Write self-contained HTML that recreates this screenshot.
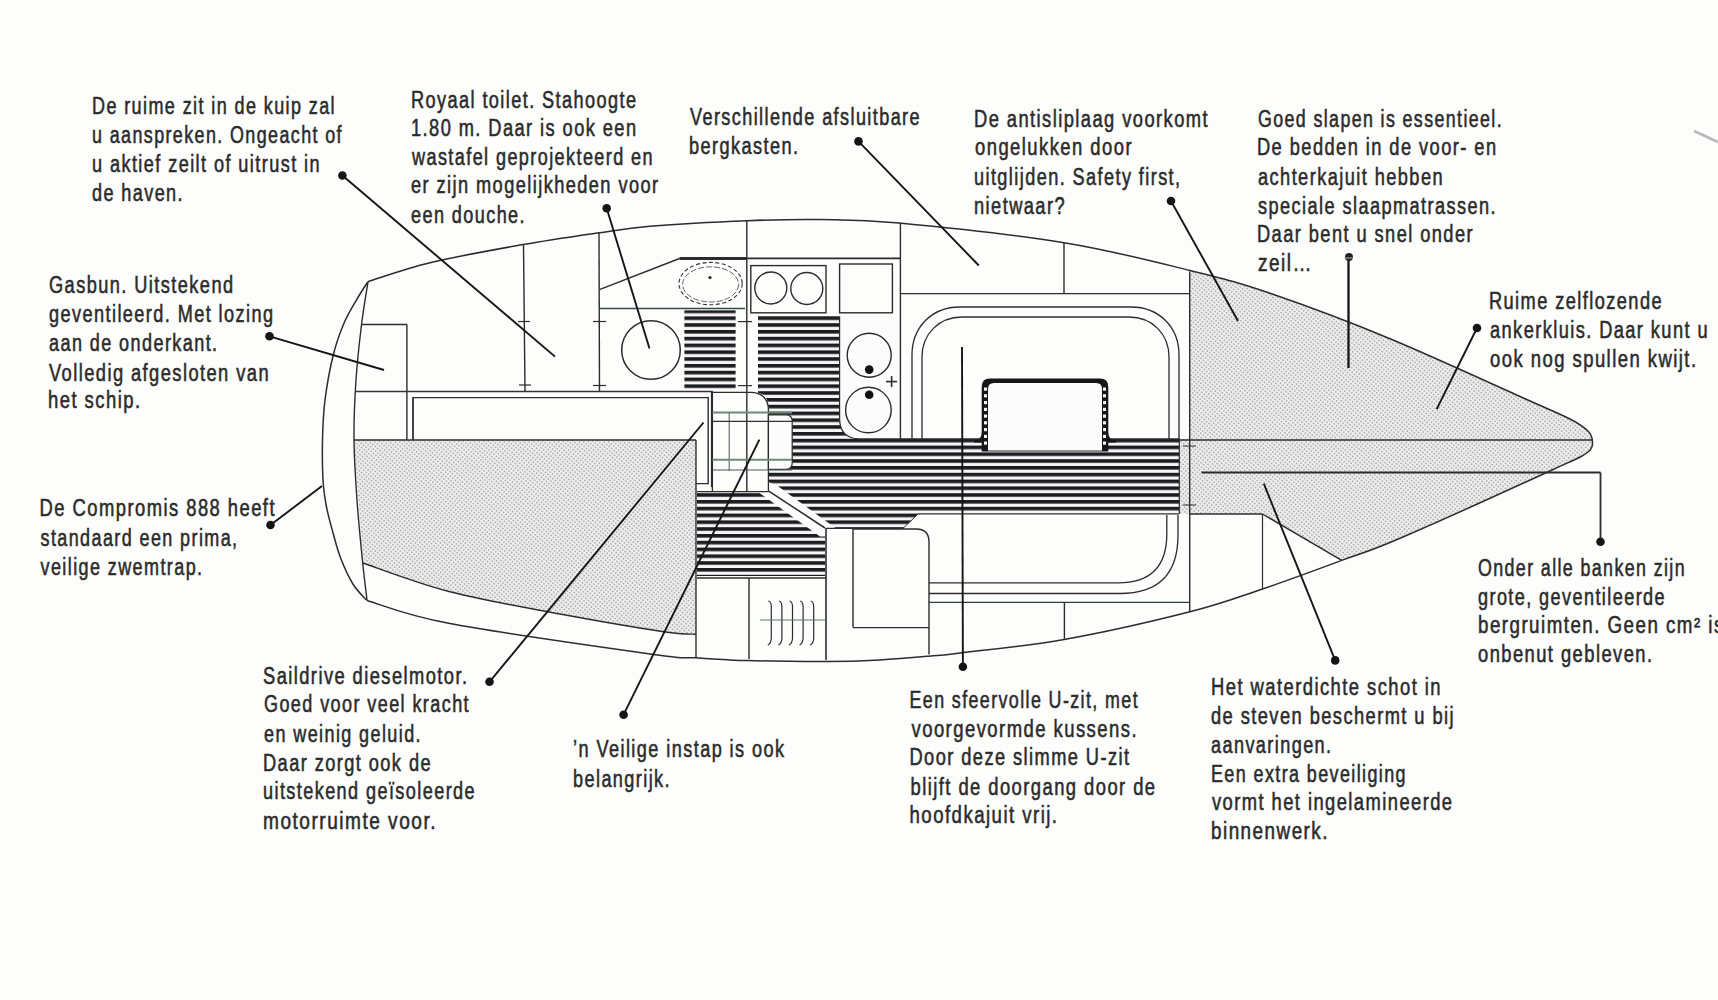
<!DOCTYPE html>
<html><head><meta charset="utf-8"><title>Compromis 888</title>
<style>
html,body{margin:0;padding:0;background:#fdfdfc;}
body{width:1718px;height:1000px;overflow:hidden;position:relative;}
svg{position:absolute;left:0;top:0;}
text{font-family:"Liberation Sans",sans-serif;font-size:23px;fill:#2b2b2b;letter-spacing:1.8px;}
</style></head><body>
<svg width="1718" height="1000" viewBox="0 0 1718 1000">
<rect width="1718" height="1000" fill="#fdfdfc"/>
<defs>
<pattern id="dots" width="3.2" height="3.2" patternUnits="userSpaceOnUse" patternTransform="rotate(40)">
<rect width="3.2" height="3.2" fill="#eeeeef"/><circle cx="1.6" cy="1.6" r="0.9" fill="#a9a9ad"/></pattern>
<pattern id="hatch" width="10" height="6.8" y="3.6" patternUnits="userSpaceOnUse">
<rect width="10" height="6.8" fill="#f3f6f3"/><rect y="0" width="10" height="3.6" fill="#1c1c22"/></pattern>
</defs>
<path d="M354 440 L696 440 L696 634.2  L696 634.2 C690.6 633.8 686.2 635.1 663.5 631.7 C640.8 628.3 595.6 620.6 560.0 614.0 C524.4 607.4 482.9 600.3 450.0 591.8 C417.1 583.3 377.2 567.8 362.7 563.0 Z" fill="url(#dots)"/>
<path d="M1189.7 270.6 C1203.3 274.5 1238.1 282.5 1271.5 293.8 C1304.9 305.1 1347.8 321.2 1390.0 338.7 C1432.2 356.2 1495.0 385.3 1525.0 398.7 C1555.0 412.1 1559.5 413.6 1570.0 419.0 C1580.5 424.4 1584.2 427.5 1588.0 431.0 C1591.8 434.5 1591.8 438.5 1592.5 440.0  C1591.8 442.0 1594.8 447.0 1588.0 452.0 C1581.2 457.0 1583.3 455.6 1552.0 470.0 C1520.7 484.4 1435.0 523.2 1400.0 538.3 C1365.0 553.4 1351.4 556.7 1341.7 560.4 L1262.5 514 L1189.7 514 Z" fill="url(#dots)"/>
<rect x="1179.3" y="438.8" width="10.4" height="75.2" fill="url(#dots)"/>
<rect x="684.4" y="310.4" width="51.2" height="78.4" fill="url(#hatch)"/>
<path d="M758 316.8 L839.6 316.8 L839.6 418 Q839.6 438.8 859.6 438.8 L1179.3 438.8 L1179.3 514 L918 514 L903 528.4 L836 528.4 L777 485.5 L768.4 482 L768.4 408 Q768 394 758 393 Z" fill="url(#hatch)"/>
<path d="M697 492 L758 492 L820 536.4 L825 536.4 L825 576 L697 576 Z" fill="url(#hatch)"/>
<path d="M768.4 414.8 L786 414.8 Q792.2 414.8 792.2 421 L792.2 463 Q792.2 469.3 786 469.3 L768.4 469.3 Z" fill="#fbfcfb" stroke="#2c2c2c" stroke-width="1.2"/>
<path d="M974 440.5 Q981.7 440 981.7 432 L981.7 387 Q981.7 378.6 990 378.6 L1100 378.6 Q1108.3 378.6 1108.3 387 L1108.3 432 Q1108.3 440 1116 440.5 L1116 442.5 L974 442.5 Z" fill="#161616"/>
<rect x="981.7" y="442" width="6.3" height="9.5" fill="#161616"/><rect x="1102" y="442" width="6.3" height="9.5" fill="#161616"/>
<path d="M988 451.5 L988 389 Q988 383 994 383 L1096 383 Q1102 383 1102 389 L1102 451.5 Z" fill="#fbfcfb"/>
<line x1="988" y1="451" x2="1102" y2="451" stroke="#222" stroke-width="1.2"/>
<rect x="984" y="387.5" width="3" height="3.2" fill="#f4f6f4"/>
<rect x="1103" y="387.5" width="3" height="3.2" fill="#f4f6f4"/>
<rect x="984" y="394.2" width="3" height="3.2" fill="#f4f6f4"/>
<rect x="1103" y="394.2" width="3" height="3.2" fill="#f4f6f4"/>
<rect x="984" y="401.0" width="3" height="3.2" fill="#f4f6f4"/>
<rect x="1103" y="401.0" width="3" height="3.2" fill="#f4f6f4"/>
<rect x="984" y="407.8" width="3" height="3.2" fill="#f4f6f4"/>
<rect x="1103" y="407.8" width="3" height="3.2" fill="#f4f6f4"/>
<rect x="984" y="414.5" width="3" height="3.2" fill="#f4f6f4"/>
<rect x="1103" y="414.5" width="3" height="3.2" fill="#f4f6f4"/>
<rect x="984" y="421.2" width="3" height="3.2" fill="#f4f6f4"/>
<rect x="1103" y="421.2" width="3" height="3.2" fill="#f4f6f4"/>
<rect x="984" y="428.0" width="3" height="3.2" fill="#f4f6f4"/>
<rect x="1103" y="428.0" width="3" height="3.2" fill="#f4f6f4"/>
<rect x="984" y="434.8" width="3" height="3.2" fill="#f4f6f4"/>
<rect x="1103" y="434.8" width="3" height="3.2" fill="#f4f6f4"/>
<rect x="984" y="441.5" width="3" height="3.2" fill="#f4f6f4"/>
<rect x="1103" y="441.5" width="3" height="3.2" fill="#f4f6f4"/>
<path d="M839.6 316.8 L900.4 316.8 L900.4 438.8 L859.6 438.8 Q839.6 438.8 839.6 418 Z" fill="#fbfcfb"/>
<line x1="1694" y1="131" x2="1718" y2="142" stroke="#b8b8b8" stroke-width="2.5"/>
<path d="M368.0 281.6 C378.3 278.5 404.4 268.8 430.0 262.7 C455.6 256.6 493.6 249.8 521.6 244.8 C549.6 239.9 576.4 236.1 597.8 233.0 C619.2 229.9 625.0 228.4 650.0 226.3 C675.0 224.2 719.3 221.8 747.6 220.7 C775.9 219.6 794.8 219.1 820.0 219.5 C845.2 219.9 858.3 219.1 899.0 223.0 C939.7 226.9 1015.5 234.8 1064.0 242.7 C1112.5 250.6 1155.4 262.0 1190.0 270.5 C1224.6 279.0 1238.2 282.4 1271.5 293.8 C1304.8 305.2 1347.8 321.2 1390.0 338.7 C1432.2 356.2 1495.0 385.3 1525.0 398.7 C1555.0 412.1 1559.5 413.6 1570.0 419.0 C1580.5 424.4 1584.2 427.5 1588.0 431.0 C1591.8 434.5 1591.8 438.5 1592.5 440.0" fill="none" stroke="#2c2c2c" stroke-width="1.5" />
<path d="M1592.5 440.0 C1591.8 442.0 1594.8 447.0 1588.0 452.0 C1581.2 457.0 1583.3 455.6 1552.0 470.0 C1520.7 484.4 1435.0 523.2 1400.0 538.3 C1365.0 553.4 1364.6 551.9 1341.7 560.4 C1318.8 568.9 1288.0 580.4 1262.5 589.0 C1237.0 597.6 1222.1 603.6 1189.0 612.0 C1155.9 620.4 1102.2 632.7 1064.0 639.5 C1025.8 646.3 982.5 650.2 960.0 653.0 C937.5 655.8 942.3 655.0 929.0 656.2 C915.7 657.4 897.2 659.1 880.0 660.0 C862.8 660.9 847.8 661.5 826.0 661.6 C804.2 661.7 765.0 660.9 749.0 660.6 C733.0 660.3 739.0 660.4 730.0 659.9 C721.0 659.4 708.0 658.7 695.3 657.8 C682.6 656.9 694.6 660.2 653.7 654.5 C612.8 648.8 497.8 632.6 450.0 623.6 C402.2 614.6 380.8 604.4 367.0 600.5" fill="none" stroke="#2c2c2c" stroke-width="1.5" />
<path d="M366.6 600.3 C364.3 597.6 357.2 591.0 352.9 584.0 C348.6 577.0 344.0 566.7 340.6 558.0 C337.2 549.3 335.2 540.7 332.8 532.0 C330.4 523.3 327.9 514.7 326.3 506.0 C324.7 497.3 323.6 491.0 323.0 480.0 C322.4 469.0 322.2 453.3 322.5 440.0 C322.8 426.7 323.2 414.2 325.0 400.0 C326.8 385.8 330.1 367.5 333.4 354.5 C336.6 341.5 340.3 331.8 344.5 322.0 C348.7 312.2 354.9 302.7 358.8 296.0 C362.7 289.3 366.5 284.0 368.0 281.6" fill="none" stroke="#2c2c2c" stroke-width="1.5" />
<path d="M368.0 282.0 C366.9 289.0 363.6 307.7 361.6 324.0 C359.6 340.3 357.3 360.7 356.0 380.0 C354.7 399.3 353.8 420.0 354.0 440.0 C354.2 460.0 355.6 479.5 357.0 500.0 C358.4 520.5 361.0 546.3 362.7 563.0 C364.4 579.7 366.3 593.8 367.0 600.0" fill="none" stroke="#2c2c2c" stroke-width="1.4" />
<path d="M362.7 563.0 C377.2 567.8 417.1 583.3 450.0 591.8 C482.9 600.3 524.4 607.4 560.0 614.0 C595.6 620.6 640.8 628.3 663.5 631.7 C686.2 635.1 690.6 633.8 696.0 634.2" fill="none" stroke="#2c2c2c" stroke-width="1.4" />
<line x1="354.0" y1="440.0" x2="696.0" y2="440.0" stroke="#2c2c2c" stroke-width="1.4"/>
<line x1="696.0" y1="440.0" x2="696.0" y2="657.8" stroke="#2c2c2c" stroke-width="1.4"/>
<line x1="361.6" y1="324.5" x2="406.9" y2="324.5" stroke="#2c2c2c" stroke-width="1.4"/>
<line x1="406.9" y1="324.5" x2="406.9" y2="440.0" stroke="#2c2c2c" stroke-width="1.4"/>
<line x1="356.0" y1="391.5" x2="712.9" y2="391.5" stroke="#3a3035" stroke-width="1.5"/>
<path d="M413 440 L413 397.6 L708.2 397.6 L708.2 483.6 L696 483.6" fill="none" stroke="#2c2c2c" stroke-width="1.4" />
<line x1="711.5" y1="392.0" x2="711.5" y2="487.0" stroke="#2c2c2c" stroke-width="1.2"/>
<line x1="413.0" y1="397.6" x2="413.0" y2="440.0" stroke="#2c2c2c" stroke-width="1.2"/>
<line x1="523.5" y1="245.0" x2="525.0" y2="391.0" stroke="#2c2c2c" stroke-width="1.4"/>
<line x1="518.0" y1="321.5" x2="530.0" y2="321.5" stroke="#2c2c2c" stroke-width="1.2"/>
<line x1="519.0" y1="385.0" x2="531.0" y2="385.0" stroke="#2c2c2c" stroke-width="1.2"/>
<line x1="599.0" y1="232.5" x2="599.5" y2="391.0" stroke="#2c2c2c" stroke-width="1.4"/>
<line x1="593.0" y1="321.5" x2="606.0" y2="321.5" stroke="#2c2c2c" stroke-width="1.2"/>
<line x1="593.0" y1="385.5" x2="606.0" y2="385.5" stroke="#2c2c2c" stroke-width="1.2"/>
<line x1="600.0" y1="289.4" x2="679.5" y2="258.5" stroke="#2c2c2c" stroke-width="1.4"/>
<line x1="679.5" y1="258.4" x2="746.8" y2="258.4" stroke="#2c2c2c" stroke-width="3.0"/>
<line x1="746.8" y1="258.4" x2="900.4" y2="258.4" stroke="#2c2c2c" stroke-width="1.6"/>
<line x1="600.0" y1="308.5" x2="745.0" y2="308.5" stroke="#3a4a40" stroke-width="1.5"/>
<circle cx="651" cy="350" r="29.3" fill="none" stroke="#2c2c2c" stroke-width="1.5"/>
<ellipse cx="710.6" cy="283.6" rx="31.6" ry="21.2" fill="none" stroke="#333" stroke-width="1.1" stroke-dasharray="4 2.5"/>
<ellipse cx="710.6" cy="284.4" rx="28" ry="17.6" fill="none" stroke="#555" stroke-width="0.9" stroke-dasharray="6 2"/>
<circle cx="710" cy="277.5" r="1.6" fill="#222"/>
<line x1="746.8" y1="221.0" x2="746.8" y2="491.6" stroke="#2c2c2c" stroke-width="1.4"/>
<line x1="738.0" y1="321.6" x2="752.0" y2="321.6" stroke="#2c2c2c" stroke-width="1.2"/>
<line x1="738.0" y1="385.6" x2="752.0" y2="385.6" stroke="#2c2c2c" stroke-width="1.2"/>
<rect x="750.8" y="265.6" width="75.2" height="47.2" fill="none" stroke="#2c2c2c" stroke-width="1.4"/>
<circle cx="770.8" cy="288" r="16" fill="none" stroke="#2c2c2c" stroke-width="1.4"/>
<circle cx="806.8" cy="288.5" r="16" fill="none" stroke="#2c2c2c" stroke-width="1.4"/>
<rect x="839.6" y="264" width="52.8" height="48.8" fill="none" stroke="#2c2c2c" stroke-width="1.4"/>
<line x1="900.4" y1="223.0" x2="900.4" y2="438.8" stroke="#2c2c2c" stroke-width="1.4"/>
<line x1="900.4" y1="293.6" x2="1189.7" y2="293.6" stroke="#2c2c2c" stroke-width="1.4"/>
<line x1="1064.0" y1="242.7" x2="1064.0" y2="293.6" stroke="#2c2c2c" stroke-width="1.4"/>
<line x1="1189.7" y1="271.5" x2="1189.7" y2="611.0" stroke="#2c2c2c" stroke-width="1.4"/>
<circle cx="869.2" cy="355.2" r="22" fill="none" stroke="#2c2c2c" stroke-width="1.4"/>
<circle cx="869.2" cy="369.6" r="4.3" fill="#111"/>
<circle cx="868.4" cy="410" r="22.8" fill="none" stroke="#2c2c2c" stroke-width="1.4"/>
<circle cx="869.2" cy="394.8" r="4.3" fill="#111"/>
<line x1="886.0" y1="381.6" x2="897.0" y2="381.6" stroke="#2c2c2c" stroke-width="1.6"/>
<line x1="891.6" y1="376.0" x2="891.6" y2="387.0" stroke="#2c2c2c" stroke-width="1.6"/>
<path d="M758 316.8 L839.6 316.8 L839.6 418 Q839.6 438.8 859.6 438.8 L979 438.8" fill="none" stroke="#2c2c2c" stroke-width="1.2" />
<path d="M1111 438.8 L1179.3 438.8 L1179.3 514" fill="none" stroke="#2c2c2c" stroke-width="1.2" />
<path d="M712.4 491.6 L712.4 392.4 L752 392.4 Q768.4 394 768.4 410 L768.4 491.6" fill="none" stroke="#2c2c2c" stroke-width="1.3"/>
<line x1="729.2" y1="412.0" x2="729.2" y2="471.0" stroke="#555" stroke-width="1.0"/>
<line x1="712.4" y1="412.4" x2="792.0" y2="412.4" stroke="#6f8a78" stroke-width="2.0"/>
<line x1="712.4" y1="421.4" x2="792.0" y2="421.4" stroke="#333" stroke-width="1.1"/>
<line x1="712.4" y1="459.7" x2="792.0" y2="459.7" stroke="#6f8a78" stroke-width="2.0"/>
<line x1="712.4" y1="470.0" x2="792.0" y2="470.0" stroke="#4a5a50" stroke-width="1.1"/>
<line x1="768.4" y1="490.8" x2="825.0" y2="528.0" stroke="#2c2c2c" stroke-width="1.5"/>
<line x1="697.0" y1="491.6" x2="768.4" y2="491.6" stroke="#2c2c2c" stroke-width="1.2"/>
<line x1="697.0" y1="578.0" x2="826.0" y2="578.0" stroke="#2c2c2c" stroke-width="1.4"/>
<line x1="749.0" y1="578.0" x2="749.0" y2="659.0" stroke="#2c2c2c" stroke-width="1.4"/>
<line x1="826.0" y1="528.0" x2="826.0" y2="660.0" stroke="#2c2c2c" stroke-width="1.6"/>
<path d="M768.3 601 Q771.3 601.5 771.3 607 L771.3 638 Q771.3 643 767.8 645" fill="none" stroke="#2c2c2c" stroke-width="1.2" />
<path d="M778.9 601 Q781.9 601.5 781.9 607 L781.9 638 Q781.9 643 778.4 645" fill="none" stroke="#2c2c2c" stroke-width="1.2" />
<path d="M789.5 601 Q792.5 601.5 792.5 607 L792.5 638 Q792.5 643 789.0 645" fill="none" stroke="#2c2c2c" stroke-width="1.2" />
<path d="M800.1 601 Q803.1 601.5 803.1 607 L803.1 638 Q803.1 643 799.6 645" fill="none" stroke="#2c2c2c" stroke-width="1.2" />
<path d="M810.7 601 Q813.7 601.5 813.7 607 L813.7 638 Q813.7 643 810.2 645" fill="none" stroke="#2c2c2c" stroke-width="1.2" />
<line x1="760.0" y1="620.0" x2="826.0" y2="620.0" stroke="#5a7a6a" stroke-width="1.1"/>
<path d="M853 627.6 L853 529 L916 529 Q929 529 929 542 L929 654.6" fill="none" stroke="#2c2c2c" stroke-width="1.4" />
<line x1="853.0" y1="627.6" x2="929.0" y2="627.6" stroke="#2c2c2c" stroke-width="1.2"/>
<path d="M912 440 L912 355 C912 327 932 307 960 307 L1131 307 C1159 307 1179 327 1179 355 L1179 440" fill="none" stroke="#2c2c2c" stroke-width="1.3" />
<path d="M922 440 L922 357 C922 334 939 317 962 317 L1129 317 C1152 317 1169 334 1169 357 L1169 440" fill="none" stroke="#2c2c2c" stroke-width="1.3" />
<path d="M929 582.9 L1118 582.9 Q1166.8 582.9 1166.8 534 L1166.8 515" fill="none" stroke="#2c2c2c" stroke-width="1.3" />
<path d="M929 593.5 L1120 593.5 Q1178 593.5 1178 535 L1178 515" fill="none" stroke="#2c2c2c" stroke-width="1.3" />
<line x1="929.0" y1="602.4" x2="1189.6" y2="602.4" stroke="#2f4038" stroke-width="1.4"/>
<line x1="1064.4" y1="602.4" x2="1064.4" y2="638.8" stroke="#2c2c2c" stroke-width="1.4"/>
<line x1="903.0" y1="528.4" x2="826.0" y2="528.4" stroke="#2c2c2c" stroke-width="1.3"/>
<line x1="918.0" y1="514.0" x2="1179.0" y2="514.0" stroke="#2c2c2c" stroke-width="1.2"/>
<line x1="903.0" y1="528.4" x2="918.0" y2="514.0" stroke="#2c2c2c" stroke-width="1.0"/>
<line x1="1189.7" y1="514.0" x2="1262.5" y2="514.0" stroke="#2c2c2c" stroke-width="1.4"/>
<line x1="1262.5" y1="514.0" x2="1341.7" y2="560.4" stroke="#2c2c2c" stroke-width="1.4"/>
<line x1="1262.5" y1="514.0" x2="1262.5" y2="589.0" stroke="#2c2c2c" stroke-width="1.2"/>
<line x1="1178.0" y1="440.0" x2="1592.0" y2="440.0" stroke="#2c2c2c" stroke-width="1.5"/>
<line x1="1201.4" y1="472.5" x2="1600.5" y2="472.5" stroke="#2c2c2c" stroke-width="1.8"/>
<line x1="1600.5" y1="472.5" x2="1600.5" y2="541.8" stroke="#2c2c2c" stroke-width="1.8"/>
<line x1="1183.0" y1="446.0" x2="1196.0" y2="446.0" stroke="#2c2c2c" stroke-width="1.0"/>
<line x1="1183.0" y1="505.0" x2="1196.0" y2="505.0" stroke="#2c2c2c" stroke-width="1.0"/>
<line x1="342.4" y1="175.5" x2="555.0" y2="356.6" stroke="#151515" stroke-width="1.9"/>
<circle cx="342.4" cy="175.5" r="4.3" fill="#151515"/>
<line x1="606.7" y1="208.3" x2="649.5" y2="348.5" stroke="#151515" stroke-width="1.9"/>
<circle cx="606.7" cy="208.3" r="4.3" fill="#151515"/>
<line x1="858.5" y1="141.4" x2="978.8" y2="265.5" stroke="#151515" stroke-width="1.9"/>
<circle cx="858.5" cy="141.4" r="4.3" fill="#151515"/>
<line x1="1171.0" y1="201.0" x2="1238.0" y2="321.0" stroke="#151515" stroke-width="1.9"/>
<circle cx="1171.0" cy="201.0" r="4.3" fill="#151515"/>
<line x1="1348.5" y1="258.0" x2="1348.5" y2="368.0" stroke="#151515" stroke-width="2.3"/>
<circle cx="1349" cy="257" r="4" fill="#222"/>
<line x1="1344" y1="258" x2="1353" y2="258" stroke="#bbb" stroke-width="1"/>
<line x1="1477.0" y1="328.0" x2="1436.7" y2="409.2" stroke="#151515" stroke-width="1.9"/>
<circle cx="1477.0" cy="328.0" r="4.3" fill="#151515"/>
<line x1="1600.5" y1="541.8" x2="1600.5" y2="541.8" stroke="#151515" stroke-width="1.9"/>
<circle cx="1600.5" cy="541.8" r="4.3" fill="#151515"/>
<line x1="1335.2" y1="660.4" x2="1263.8" y2="483.7" stroke="#151515" stroke-width="1.9"/>
<circle cx="1335.2" cy="660.4" r="4.3" fill="#151515"/>
<line x1="962.9" y1="666.7" x2="962.0" y2="347.0" stroke="#151515" stroke-width="1.9"/>
<circle cx="962.9" cy="666.7" r="4.3" fill="#151515"/>
<line x1="623.6" y1="714.7" x2="759.4" y2="439.6" stroke="#151515" stroke-width="1.9"/>
<circle cx="623.6" cy="714.7" r="4.3" fill="#151515"/>
<line x1="489.5" y1="681.8" x2="703.5" y2="422.5" stroke="#151515" stroke-width="1.9"/>
<circle cx="489.5" cy="681.8" r="4.3" fill="#151515"/>
<line x1="270.5" y1="525.0" x2="322.0" y2="486.0" stroke="#151515" stroke-width="1.9"/>
<circle cx="270.5" cy="525.0" r="4.3" fill="#151515"/>
<line x1="269.5" y1="336.3" x2="384.0" y2="370.0" stroke="#151515" stroke-width="1.9"/>
<circle cx="269.5" cy="336.3" r="4.3" fill="#151515"/>
<g id="txt" stroke="#2b2b2b" stroke-width="0.55">
<text x="92.0" y="114.0" textLength="244.0" lengthAdjust="spacingAndGlyphs">De ruime zit in de kuip zal</text>
<text x="92.0" y="143.0" textLength="251.0" lengthAdjust="spacingAndGlyphs">u aanspreken. Ongeacht of</text>
<text x="92.0" y="171.5" textLength="229.0" lengthAdjust="spacingAndGlyphs">u aktief zeilt of uitrust in</text>
<text x="92.0" y="200.5" textLength="92.0" lengthAdjust="spacingAndGlyphs">de haven.</text>
<text x="411.0" y="107.7" textLength="226.5" lengthAdjust="spacingAndGlyphs">Royaal toilet. Stahoogte</text>
<text x="411.0" y="136.2" textLength="226.5" lengthAdjust="spacingAndGlyphs">1.80 m. Daar is ook een</text>
<text x="412.0" y="164.7" textLength="242.0" lengthAdjust="spacingAndGlyphs">wastafel geprojekteerd en</text>
<text x="411.0" y="193.3" textLength="248.5" lengthAdjust="spacingAndGlyphs">er zijn mogelijkheden voor</text>
<text x="411.0" y="223.4" textLength="115.0" lengthAdjust="spacingAndGlyphs">een douche.</text>
<text x="690.0" y="125.1" textLength="231.0" lengthAdjust="spacingAndGlyphs">Verschillende afsluitbare</text>
<text x="689.0" y="153.7" textLength="110.5" lengthAdjust="spacingAndGlyphs">bergkasten.</text>
<text x="974.0" y="126.9" textLength="235.0" lengthAdjust="spacingAndGlyphs">De antisliplaag voorkomt</text>
<text x="975.0" y="155.4" textLength="158.0" lengthAdjust="spacingAndGlyphs">ongelukken door</text>
<text x="974.0" y="184.7" textLength="207.5" lengthAdjust="spacingAndGlyphs">uitglijden. Safety first,</text>
<text x="974.0" y="214.0" textLength="92.0" lengthAdjust="spacingAndGlyphs">nietwaar?</text>
<text x="1258.0" y="127.2" textLength="245.0" lengthAdjust="spacingAndGlyphs">Goed slapen is essentieel.</text>
<text x="1257.0" y="155.4" textLength="240.5" lengthAdjust="spacingAndGlyphs">De bedden in de voor- en</text>
<text x="1258.0" y="184.7" textLength="186.0" lengthAdjust="spacingAndGlyphs">achterkajuit hebben</text>
<text x="1258.0" y="213.9" textLength="239.0" lengthAdjust="spacingAndGlyphs">speciale slaapmatrassen.</text>
<text x="1257.0" y="242.2" textLength="217.0" lengthAdjust="spacingAndGlyphs">Daar bent u snel onder</text>
<text x="1258.0" y="271.4" textLength="55.0" lengthAdjust="spacingAndGlyphs">zeil…</text>
<text x="1489.0" y="308.5" textLength="174.0" lengthAdjust="spacingAndGlyphs">Ruime zelflozende</text>
<text x="1490.0" y="337.8" textLength="219.0" lengthAdjust="spacingAndGlyphs">ankerkluis. Daar kunt u</text>
<text x="1490.0" y="367.1" textLength="207.5" lengthAdjust="spacingAndGlyphs">ook nog spullen kwijt.</text>
<text x="1478.0" y="576.0" textLength="208.0" lengthAdjust="spacingAndGlyphs">Onder alle banken zijn</text>
<text x="1478.0" y="604.6" textLength="188.0" lengthAdjust="spacingAndGlyphs">grote, geventileerde</text>
<text x="1478.0" y="633.1" textLength="246.8" lengthAdjust="spacingAndGlyphs">bergruimten. Geen cm² is</text>
<text x="1478.0" y="662.4" textLength="175.5" lengthAdjust="spacingAndGlyphs">onbenut gebleven.</text>
<text x="1211.0" y="695.4" textLength="231.0" lengthAdjust="spacingAndGlyphs">Het waterdichte schot in</text>
<text x="1211.0" y="723.9" textLength="244.0" lengthAdjust="spacingAndGlyphs">de steven beschermt u bij</text>
<text x="1211.0" y="753.3" textLength="121.5" lengthAdjust="spacingAndGlyphs">aanvaringen.</text>
<text x="1211.0" y="781.8" textLength="196.0" lengthAdjust="spacingAndGlyphs">Een extra beveiliging</text>
<text x="1212.0" y="810.3" textLength="241.5" lengthAdjust="spacingAndGlyphs">vormt het ingelamineerde</text>
<text x="1211.0" y="838.8" textLength="118.0" lengthAdjust="spacingAndGlyphs">binnenwerk.</text>
<text x="909.5" y="707.6" textLength="229.5" lengthAdjust="spacingAndGlyphs">Een sfeervolle U-zit, met</text>
<text x="911.5" y="736.6" textLength="226.5" lengthAdjust="spacingAndGlyphs">voorgevormde kussens.</text>
<text x="909.5" y="765.4" textLength="221.0" lengthAdjust="spacingAndGlyphs">Door deze slimme U-zit</text>
<text x="910.5" y="794.8" textLength="246.0" lengthAdjust="spacingAndGlyphs">blijft de doorgang door de</text>
<text x="909.5" y="823.3" textLength="149.0" lengthAdjust="spacingAndGlyphs">hoofdkajuit vrij.</text>
<text x="263.0" y="683.7" textLength="205.5" lengthAdjust="spacingAndGlyphs">Saildrive dieselmotor.</text>
<text x="264.0" y="712.3" textLength="206.0" lengthAdjust="spacingAndGlyphs">Goed voor veel kracht</text>
<text x="264.0" y="741.9" textLength="158.0" lengthAdjust="spacingAndGlyphs">en weinig geluid.</text>
<text x="263.0" y="770.6" textLength="169.0" lengthAdjust="spacingAndGlyphs">Daar zorgt ook de</text>
<text x="263.0" y="799.3" textLength="213.0" lengthAdjust="spacingAndGlyphs">uitstekend geïsoleerde</text>
<text x="263.0" y="828.8" textLength="174.0" lengthAdjust="spacingAndGlyphs">motorruimte voor.</text>
<text x="573.0" y="757.3" textLength="212.5" lengthAdjust="spacingAndGlyphs">’n Veilige instap is ook</text>
<text x="573.0" y="786.6" textLength="98.0" lengthAdjust="spacingAndGlyphs">belangrijk.</text>
<text x="49.0" y="292.9" textLength="185.5" lengthAdjust="spacingAndGlyphs">Gasbun. Uitstekend</text>
<text x="49.0" y="321.6" textLength="225.5" lengthAdjust="spacingAndGlyphs">geventileerd. Met lozing</text>
<text x="49.0" y="351.0" textLength="169.5" lengthAdjust="spacingAndGlyphs">aan de onderkant.</text>
<text x="49.0" y="380.5" textLength="221.0" lengthAdjust="spacingAndGlyphs">Volledig afgesloten van</text>
<text x="48.0" y="408.4" textLength="93.5" lengthAdjust="spacingAndGlyphs">het schip.</text>
<text x="39.5" y="515.6" textLength="236.5" lengthAdjust="spacingAndGlyphs">De Compromis 888 heeft</text>
<text x="40.5" y="545.5" textLength="198.0" lengthAdjust="spacingAndGlyphs">standaard een prima,</text>
<text x="40.5" y="574.6" textLength="163.0" lengthAdjust="spacingAndGlyphs">veilige zwemtrap.</text>
</g>
</svg>
</body></html>
